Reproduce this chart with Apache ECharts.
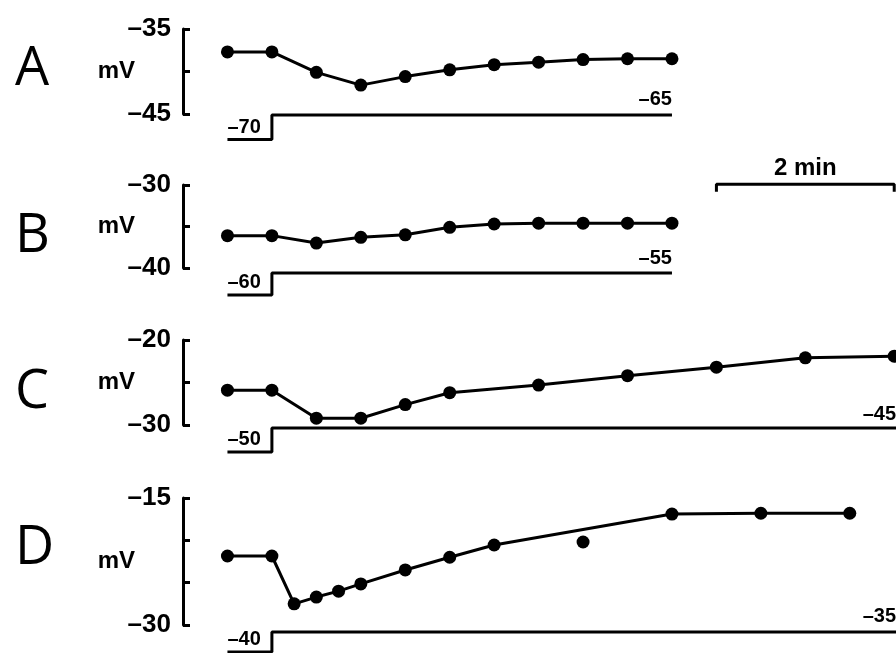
<!DOCTYPE html>
<html>
<head>
    <meta charset="utf-8">
    <title>mV traces</title>
    <script src="https://cdn.jsdelivr.net/npm/echarts@6/dist/echarts.min.js"></script>
    <style>
        html, body { margin: 0; padding: 0; background: #fff; }
        #chart1 { width: 896px; height: 653px; }
    </style>
</head>
<body>
<div id="chart1"></div>
<script type="text/javascript">
    // time in min, membrane potential in mV
    var tA = [0, 0.5, 1, 1.5, 2, 2.5, 3, 3.5, 4, 4.5, 5];
    var vA = [-37.7, -37.7, -40.1, -41.6, -40.6, -39.8, -39.2, -38.9, -38.6, -38.5, -38.5];
    var tB = [0, 0.5, 1, 1.5, 2, 2.5, 3, 3.5, 4, 4.5, 5];
    var vB = [-36.1, -36.1, -37.0, -36.3, -36.0, -35.1, -34.7, -34.6, -34.6, -34.6, -34.6];
    var tC = [0, 0.5, 1, 1.5, 2, 2.5, 3.5, 4.5, 5.5, 6.5, 7.5];
    var vC = [-25.9, -25.9, -29.2, -29.2, -27.6, -26.2, -25.3, -24.2, -23.2, -22.1, -21.9];
    var tD = [0, 0.5, 0.75, 1, 1.25, 1.5, 2, 2.5, 3, 5, 6, 7];
    var vD = [-21.85, -21.85, -27.5, -26.7, -26.0, -25.15, -23.5, -22.0, -20.55, -16.9, -16.8, -16.8];
    var tDextra = [4];
    var vDextra = [-20.2];

    // holding potential steps
    var stimAx = [0, 0.5, 0.5, 5], stimAy = [-70, -70, -65, -65];
    var stimBx = [0, 0.5, 0.5, 5], stimBy = [-60, -60, -55, -55];
    var stimCx = [0, 0.5, 0.5, 7.52], stimCy = [-50, -50, -45, -45];
    var stimDx = [0, 0.5, 0.5, 7.52], stimDy = [-40, -40, -35, -35];

    // 2 min scale bar (drawn in panel B)
    var scaleX = [5.5, 5.5, 6.5, 7.5, 7.5];
    var scaleY = [-30.8, -29.9, -29.9, -29.9, -30.8];

    var panels = ['A', 'B', 'C', 'D'];
    var yMin = [-45, -40, -30, -30];
    var yMax = [-35, -30, -20, -15];

    var FONT = "'Liberation Sans', Arial, sans-serif";

    function dash(v) {
        return String(v).replace('-', '\u2013');
    }

    function pairs(xs, ys) {
        return xs.map(function (x, i) { return [x, ys[i]]; });
    }

    // positions of the plot boxes (px)
    var mainBox = [[29, 85], [185, 83], [340, 85], [498, 127]];
    var stimBox = [[115, 24.5], [273, 22], [428, 24], [632, 20]];
    var stimDist = [[2, 5], [2, 4], [2, 3], [2, 5]];

    var grids = [], xAxes = [], yAxes = [], series = [], titles = [];

    mainBox.concat(stimBox).forEach(function (b) {
        grids.push({left: 183, right: 0, top: b[0], height: b[1]});
    });

    for (var g = 0; g < 8; g++) {
        xAxes.push({type: 'value', gridIndex: g, min: -0.5, max: 7.52, show: false});
    }

    var titleTop = [38, 205, 361, 517];
    panels.forEach(function (p, i) {
        titles.push({
            text: p, left: 10, top: titleTop[i],
            textStyle: {fontFamily: "'Liberation Sans Narrow', 'Open Sans', sans-serif", fontWeight: 'normal', fontSize: 54, color: '#000'}
        });
        var lo = yMin[i], hi = yMax[i];
        yAxes.push({
            type: 'value', gridIndex: i, min: lo, max: hi, interval: 5,
            name: 'mV', nameLocation: 'middle', nameRotate: 0, nameGap: 48, nameMoveOverlap: false,
            nameTextStyle: {fontFamily: FONT, fontWeight: 'bold', fontSize: 24, color: '#000', align: 'right'},
            axisLine: {show: true, onZero: false, lineStyle: {color: '#000', width: 3}},
            axisTick: {show: true, inside: true, length: 7, lineStyle: {color: '#000', width: 3}},
            splitLine: {show: false},
            axisLabel: {
                color: '#000', fontFamily: FONT, fontWeight: 'bold', fontSize: 26, margin: 12,
                formatter: function (v) { return (v === lo || v === hi) ? dash(v) : ''; }
            }
        });
    });

    var stims = [[stimAx, stimAy], [stimBx, stimBy], [stimCx, stimCy], [stimDx, stimDy]];
    stims.forEach(function (s, i) {
        var ys = s[1];
        yAxes.push({type: 'value', gridIndex: 4 + i, min: ys[0], max: ys[ys.length - 1], show: false});
    });

    var traces = [[tA, vA], [tB, vB], [tC, vC], [tD, vD]];
    traces.forEach(function (tr, i) {
        series.push({
            type: 'line', xAxisIndex: i, yAxisIndex: i,
            data: pairs(tr[0], tr[1]),
            symbol: 'circle', symbolSize: 13, clip: false,
            itemStyle: {color: '#000'},
            lineStyle: {color: '#000', width: 3}
        });
    });

    series.push({
        type: 'scatter', xAxisIndex: 3, yAxisIndex: 3,
        data: pairs(tDextra, vDextra),
        symbolSize: 13, itemStyle: {color: '#000', opacity: 1}
    });

    stims.forEach(function (s, i) {
        var last = s[0].length - 1;
        var data = pairs(s[0], s[1]).map(function (d, k) {
            var item = {value: d};
            if (k === 0 || k === last) {
                item.label = {
                    show: true, position: 'top', align: k === 0 ? 'left' : 'right',
                    distance: stimDist[i][k === 0 ? 0 : 1],
                    color: '#000', fontFamily: FONT, fontWeight: 'bold', fontSize: 20,
                    formatter: function (p) { return dash(p.value[1]); }
                };
            }
            return item;
        });
        series.push({
            type: 'line', xAxisIndex: 4 + i, yAxisIndex: 4 + i,
            data: data, symbol: 'circle', symbolSize: 0.1, clip: false,
            itemStyle: {color: '#000'},
            lineStyle: {color: '#000', width: 3}
        });
    });

    series.push({
        type: 'line', xAxisIndex: 1, yAxisIndex: 1,
        data: pairs(scaleX, scaleY).map(function (d, k) {
            var item = {value: d};
            if (k === 2) {
                item.label = {
                    show: true, position: 'top', distance: 4,
                    color: '#000', fontFamily: FONT, fontWeight: 'bold', fontSize: 24,
                    formatter: '2 min'
                };
            }
            return item;
        }),
        symbol: 'circle', symbolSize: 0.1, clip: false,
        itemStyle: {color: '#000'},
        lineStyle: {color: '#000', width: 3}
    });

    var myChart1 = echarts.init(document.getElementById('chart1'));
    myChart1.setOption({
        animation: false,
        backgroundColor: '#fff',
        title: titles,
        grid: grids,
        xAxis: xAxes,
        yAxis: yAxes,
        series: series
    });
</script>
</body>
</html>
